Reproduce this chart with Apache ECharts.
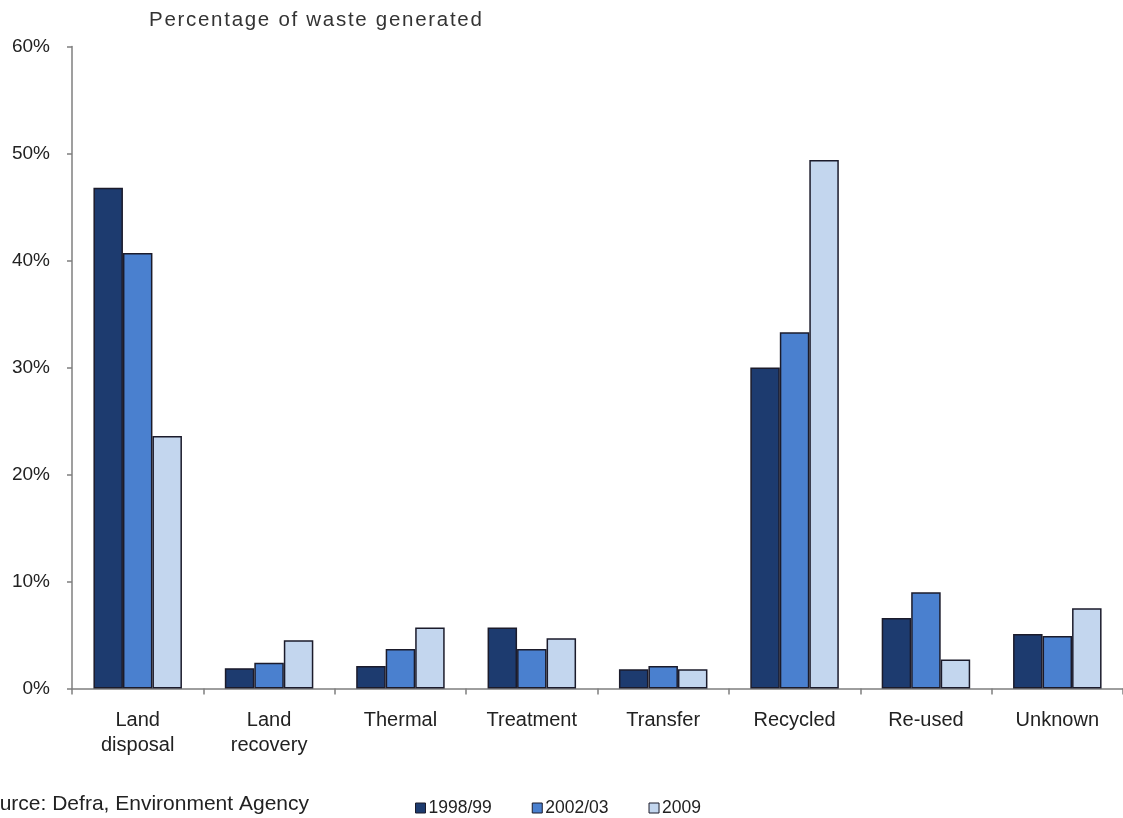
<!DOCTYPE html>
<html>
<head>
<meta charset="utf-8">
<title>Percentage of waste generated</title>
<script src="https://cdn.jsdelivr.net/npm/echarts@6/dist/echarts.min.js"></script>
<style>
  html, body { margin: 0; padding: 0; background: #ffffff; }
  #chart { width: 1123px; height: 818px; }
</style>
</head>
<body>
<div id="chart"></div>
<script>
// Waste management routes, share of total waste generated (%)
const categories = ['Land\ndisposal', 'Land\nrecovery', 'Thermal', 'Treatment', 'Transfer', 'Recycled', 'Re-used', 'Unknown'];
const seriesNames = ['1998/99', '2002/03', '2009'];
const values1998 = [46.8, 1.9, 2.1, 5.7, 1.8, 30.0, 6.6, 5.1];
const values2002 = [40.7, 2.4, 3.7, 3.7, 2.1, 33.3, 9.0, 4.9];
const values2009 = [23.6, 4.5, 5.7, 4.7, 1.8, 49.4, 2.7, 7.5];
const yTicks = [0, 10, 20, 30, 40, 50, 60];

const titleText = 'Percentage of waste generated';
const sourceText = 'Source: Defra, Environment Agency';

const fontFamily = '"Liberation Sans", Arial, sans-serif';
const barColors = ['#1d3b6f', '#4a80cf', '#c3d6ee'];
const seriesValues = [values1998, values2002, values2009];

// widen the title slightly by putting hair spaces between its letters
const spacedTitle = titleText.split('').join('\u200A');

const chart = echarts.init(document.getElementById('chart'), null, { renderer: 'canvas' });

chart.setOption({
  backgroundColor: '#ffffff',
  animation: false,
  textStyle: { fontFamily: fontFamily },
  title: {
    text: spacedTitle,
    left: 144,
    top: 5,
    textStyle: { fontFamily: fontFamily, fontSize: 20.5, fontWeight: 'normal', color: '#333333' }
  },
  legend: {
    data: seriesNames,
    left: 410,
    top: 794,
    icon: 'rect',
    itemWidth: 10,
    itemHeight: 10,
    itemGap: 40,
    itemStyle: { borderColor: '#1b1b2b', borderWidth: 1 },
    textStyle: { fontFamily: fontFamily, fontSize: 17.5, color: '#222222', padding: [0, 0, 0, -2] }
  },
  graphic: [{
    type: 'text',
    left: -26,
    top: 794,
    style: { text: sourceText, font: '21px ' + fontFamily, fill: '#222222' }
  }],
  grid: { left: 72, right: -5, top: 46.5, bottom: 129.5, containLabel: false },
  xAxis: {
    type: 'category',
    data: categories,
    axisLine: { lineStyle: { color: '#7f7f7f', width: 1.5 } },
    axisTick: { show: true, length: 6, inside: false, lineStyle: { color: '#7f7f7f', width: 1.5 } },
    axisLabel: {
      interval: 0,
      margin: 19,
      fontFamily: fontFamily,
      fontSize: 20,
      lineHeight: 25,
      color: '#222222'
    },
    splitLine: { show: false }
  },
  yAxis: {
    type: 'value',
    min: yTicks[0],
    max: yTicks[yTicks.length - 1],
    interval: yTicks[1] - yTicks[0],
    axisLine: { show: true, lineStyle: { color: '#7f7f7f', width: 1.5 } },
    axisTick: { show: true, length: 5, inside: false, lineStyle: { color: '#7f7f7f', width: 1.5 } },
    axisLabel: {
      margin: 22,
      fontFamily: fontFamily,
      fontSize: 19,
      color: '#222222',
      formatter: '{value}%'
    },
    splitLine: { show: false }
  },
  series: seriesNames.map((name, i) => ({
    name: name,
    type: 'bar',
    data: seriesValues[i],
    barWidth: 29.5,
    barGap: '0%',
    itemStyle: { color: barColors[i], borderColor: '#1b1b2b', borderWidth: 1.5 }
  }))
});
</script>
</body>
</html>
